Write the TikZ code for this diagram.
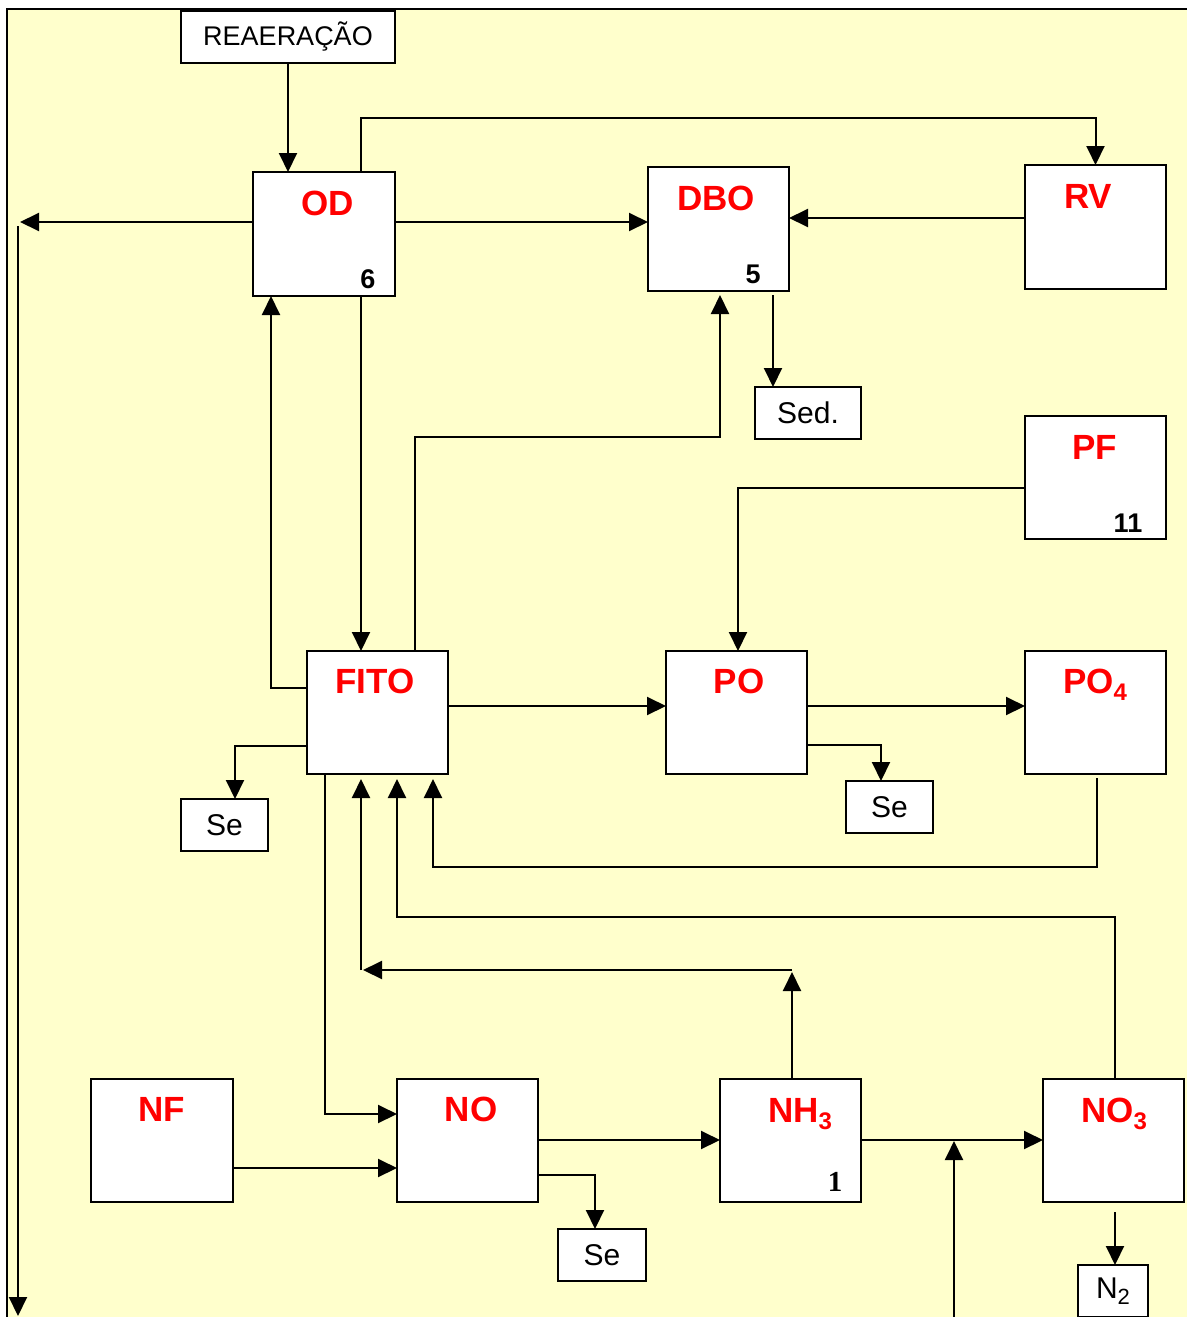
\documentclass[tikz,border=0pt]{standalone}
\usepackage{fontspec}
\setmainfont{Liberation Sans}
\newfontfamily\serifnum{Liberation Serif}
\usetikzlibrary{arrows.meta}
\definecolor{bgyellow}{HTML}{FFFFCC}
\definecolor{lblred}{HTML}{FF0000}
\newcommand\subnum[1]{\raisebox{-0.22em}{\fontsize{12}{14}\selectfont #1}}
\begin{document}
\begin{tikzpicture}[x=0.5pt,y=-0.5pt,
  box/.style={draw,fill=white,line width=1pt,inner sep=0pt,outer sep=0pt},
  arr/.style={line width=1pt,-{Triangle[length=9.5pt,width=9pt]}},
  lbl/.style={text=lblred,font=\fontsize{17.5}{20}\selectfont\bfseries,anchor=base,inner sep=0pt},
  num/.style={font=\fontsize{13.5}{15}\selectfont\bfseries,anchor=base,inner sep=0pt},
  small/.style={font=\fontsize{15}{18}\selectfont}]
\useasboundingbox (0,0) rectangle (1187,1317);
\clip (0,0) rectangle (1187,1317);
\fill[white] (0,0) rectangle (1187,1317);
\fill[bgyellow] (7,9) rectangle (1187,1317);
\draw[line width=1pt] (7,1317) -- (7,9) -- (1187,9);

% boxes
\node[box,minimum width=107pt,minimum height=26pt,font=\fontsize{13.5}{15}\selectfont] (REA) at (288,37) {REAERAÇÃO};
\node[box,minimum width=71pt,minimum height=62pt] (OD) at (324,234) {};
\node[box,minimum width=70.5pt,minimum height=62pt] (DBO) at (718.5,229) {};
\node[box,minimum width=70.5pt,minimum height=62pt] (RV) at (1095.5,227) {};
\node[box,small,minimum width=53pt,minimum height=26pt] (Sed) at (808,413) {Sed.};
\node[box,minimum width=70.5pt,minimum height=61.5pt] (PF) at (1095.5,477.5) {};
\node[box,minimum width=70.5pt,minimum height=61.5pt] (FITO) at (377.5,712.5) {};
\node[box,minimum width=70.5pt,minimum height=61.5pt] (PO) at (736.5,712.5) {};
\node[box,minimum width=70.5pt,minimum height=61.5pt] (PO4) at (1095.5,712.5) {};
\node[box,small,minimum width=43.5pt,minimum height=26pt] (SeA) at (224.5,825) {Se};
\node[box,small,minimum width=43.5pt,minimum height=26pt] (SeB) at (889.5,807) {Se};
\node[box,minimum width=71pt,minimum height=61.5pt] (NF) at (162,1140.5) {};
\node[box,minimum width=70.5pt,minimum height=61.5pt] (NO) at (467.5,1140.5) {};
\node[box,minimum width=70.5pt,minimum height=61.5pt] (NH3) at (790.5,1140.5) {};
\node[box,minimum width=70.5pt,minimum height=61.5pt] (NO3) at (1113.5,1140.5) {};
\node[box,small,minimum width=44pt,minimum height=26pt] (SeC) at (602,1255) {Se};
\node[box,small,minimum width=35pt,minimum height=26pt] (N2) at (1113,1291) {N\raisebox{-0.22em}{\fontsize{11}{13}\selectfont 2}};

% free ends
\coordinate (L1) at (20,222);
\coordinate (L2) at (18,226);
\coordinate (L3) at (18,1316);
\coordinate (J1) at (792,972);
\coordinate (J2) at (792,970);
\coordinate (J3) at (363,970);
\coordinate (J4) at (361,970);
\coordinate (B1) at (954,1317);
\coordinate (B2) at (954,1141);

% connectors
\draw[arr] (REA.south) -- (REA.south |- OD.north);
\draw[arr] (361,0 |- OD.north) |- (RV.north |- 0,118) -- (RV.north);
\draw[arr] (OD.west |- 0,222) -- (L1);
\draw[arr] (L2) -- (L3);
\draw[arr] (OD.east |- 0,222) -- (DBO.west |- 0,222);
\draw[arr] (RV.west |- 0,218) -- (DBO.east |- 0,218);
\draw[arr,shorten <=2pt] (773,0 |- DBO.south) -- (773,0 |- Sed.north);
\draw[arr,shorten >=2pt] (415,0 |- FITO.north) |- (720,437) -- (720,0 |- DBO.south);
\draw[arr] (361,0 |- OD.south) -- (361,0 |- FITO.north);
\draw[arr] (FITO.west |- 0,688) -| (271,0 |- OD.south);
\draw[arr] (FITO.west |- 0,746) -| (235,0 |- SeA.north);
\draw[arr] (FITO.east |- 0,706) -- (PO.west |- 0,706);
\draw[arr] (PF.west |- 0,488) -| (738,0 |- PO.north);
\draw[arr] (PO.east |- 0,706) -- (PO4.west |- 0,706);
\draw[arr] (PO.east |- 0,745) -| (881,0 |- SeB.north);
\draw[arr,shorten <=2pt,shorten >=2.5pt] (1097,0 |- PO4.south) |- (433,867) -- (433,0 |- FITO.south);
\draw[arr,shorten >=2.5pt] (1115,0 |- NO3.north) |- (397,917) -- (397,0 |- FITO.south);
\draw[arr] (792,0 |- NH3.north) -- (J1);
\draw[arr] (J2) -- (J3);
\draw[arr,shorten >=2.5pt] (J4) -- (361,0 |- FITO.south);
\draw[arr] (325,0 |- FITO.south) |- (NO.west |- 0,1114);
\draw[arr] (NF.east |- 0,1168) -- (NO.west |- 0,1168);
\draw[arr] (NO.east |- 0,1140) -- (NH3.west |- 0,1140);
\draw[arr] (NO.east |- 0,1175) -| (595,0 |- SeC.north);
\draw[arr] (NH3.east |- 0,1140) -- (NO3.west |- 0,1140);
\draw[arr] (B1) -- (B2);
\draw[arr,shorten <=5pt] (1115,0 |- NO3.south) -- (1115,0 |- N2.north);

% labels
\node[lbl] (tOD) at (328,215) {OD};
\node[lbl] (tDBO) at (716,210) {DBO};
\node[lbl] (tRV) at (1088,208) {RV};
\node[lbl] (tPF) at (1095,459) {PF};
\node[lbl] (tFITO) at (375,693) {FITO};
\node[lbl] (tPO) at (739,693) {PO};
\node[lbl] (tPO4) at (1095,693) {PO\subnum{4}};
\node[lbl] (tNF) at (162,1121) {NF};
\node[lbl] (tNO) at (471,1121) {NO};
\node[lbl] (tNH3) at (800,1122) {NH\subnum{3}};
\node[lbl] (tNO3) at (1114,1122) {NO\subnum{3}};
\node[num] (n6) at (368,288) {6};
\node[num] (n5) at (753,283) {5};
\node[num] (n11) at (1128,532) {11};
\node[num,font=\fontsize{14.5}{16}\selectfont\serifnum\bfseries] (n1) at (835,1191) {1};
\end{tikzpicture}
\end{document}
